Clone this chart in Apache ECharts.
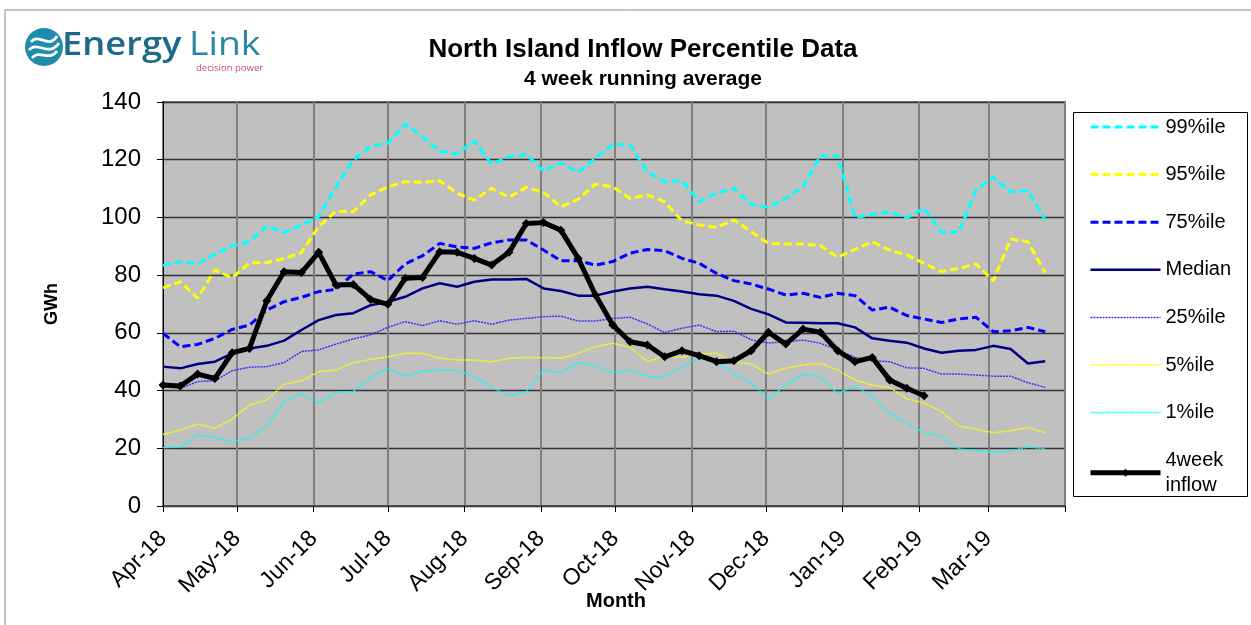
<!DOCTYPE html>
<html>
<head>
<meta charset="utf-8">
<script src="https://cdn.jsdelivr.net/npm/echarts@6/dist/echarts.min.js"></script>
<style>
html,body{margin:0;padding:0;background:#fff;}
#chart{width:1251px;height:625px;}
</style>
</head>
<body>
<div id="chart"></div>
<script>
const weeks = [
 '2018-04-01','2018-04-08','2018-04-15','2018-04-22','2018-04-29','2018-05-06','2018-05-13','2018-05-20','2018-05-27',
 '2018-06-03','2018-06-10','2018-06-17','2018-06-24','2018-07-01','2018-07-08','2018-07-15','2018-07-22','2018-07-29',
 '2018-08-05','2018-08-12','2018-08-19','2018-08-26','2018-09-02','2018-09-09','2018-09-16','2018-09-23','2018-09-30',
 '2018-10-07','2018-10-14','2018-10-21','2018-10-28','2018-11-04','2018-11-11','2018-11-18','2018-11-25','2018-12-02',
 '2018-12-09','2018-12-16','2018-12-23','2018-12-30','2019-01-06','2019-01-13','2019-01-20','2019-01-27','2019-02-03',
 '2019-02-10','2019-02-17','2019-02-24','2019-03-03','2019-03-10','2019-03-17','2019-03-24'
];
const monthNames = ['Jan','Feb','Mar','Apr','May','Jun','Jul','Aug','Sep','Oct','Nov','Dec'];

const p99 = [83.3,84.7,83.9,87.3,90.2,91.6,97.0,94.7,97.4,100.3,110.6,119.9,124.7,125.7,132.4,128.0,123.0,122.0,126.5,118.5,121.0,121.9,116.1,119.0,115.6,120.5,125.3,125.1,115.8,112.4,112.7,105.4,108.4,110.1,104.5,103.5,106.6,110.6,121.3,121.4,99.9,101.1,101.8,99.9,103.2,95.0,94.8,109.5,113.9,108.9,109.3,99.1];
const p95 = [75.6,77.7,72.0,81.8,79.1,84.3,84.3,85.8,87.8,96.8,102.2,102.0,107.8,110.6,112.4,112.2,112.7,108.4,106.0,110.1,107.0,110.4,108.7,103.7,106.3,111.5,110.6,106.6,107.8,105.4,98.8,97.4,96.6,99.1,95.0,91.0,90.8,90.8,90.2,86.2,88.9,91.6,88.7,87.0,84.1,81.2,82.3,83.9,78.0,92.5,91.6,80.8];
const p75 = [59.8,55.2,56.0,58.1,61.2,62.7,67.9,70.8,72.3,74.3,75.1,80.4,81.2,78.1,83.9,86.7,91.0,89.8,89.3,91.2,92.2,92.2,88.7,85.0,85.0,83.5,84.7,87.6,88.9,88.5,85.8,84.1,80.6,78.1,76.9,75.2,73.1,73.7,72.3,73.7,72.9,67.9,68.9,66.0,64.8,63.6,64.8,65.4,60.4,60.7,61.9,60.4];
const median = [48.3,47.7,49.2,50.0,52.9,54.6,55.5,57.3,61.0,64.4,66.2,66.8,69.6,70.8,72.5,75.4,77.2,76.0,77.7,78.5,78.5,78.7,75.4,74.5,72.9,72.9,74.3,75.4,76.0,75.1,74.3,73.4,72.9,71.1,68.3,66.4,63.6,63.5,63.3,63.3,61.9,58.1,57.3,56.6,54.6,53.1,53.8,54.1,55.5,54.4,49.4,50.2];
const p25 = [41.6,40.8,43.1,43.4,46.9,48.1,48.3,49.7,53.5,54.1,56.1,57.9,59.3,61.9,63.9,62.5,64.2,63.0,64.2,63.0,64.4,65.0,65.6,65.8,64.1,64.1,65.0,65.4,63.1,60.1,61.6,62.7,60.4,60.6,57.6,56.5,56.9,57.5,56.4,54.1,51.5,50.3,50.0,47.9,47.7,45.7,45.7,45.4,45.0,45.0,42.7,41.1];
const p5 = [24.8,26.3,28.4,26.9,30.1,35.0,36.7,42.2,43.3,46.5,47.1,49.7,50.8,51.7,52.9,52.9,51.2,50.6,50.6,50.0,51.2,51.5,51.4,51.2,52.9,55.2,56.4,55.0,50.0,52.0,51.5,52.7,52.9,50.0,49.2,45.7,47.7,48.9,49.4,47.1,43.7,41.9,41.1,37.1,35.8,32.7,27.8,26.6,25.4,26.1,27.1,25.5];
const p1 = [20.2,20.5,24.6,23.8,22.1,23.5,27.7,36.4,38.8,35.8,39.4,39.6,44.6,47.7,45.0,46.8,47.1,47.1,44.8,41.1,38.2,39.6,47.1,46.2,49.7,48.6,46.2,47.1,44.8,44.6,48.3,51.2,50.0,46.0,42.5,37.2,41.9,45.7,44.6,39.0,41.6,37.9,32.1,28.7,25.5,24.0,19.8,19.2,18.5,19.1,20.5,19.8];
const inflow = [41.9,41.6,45.7,44.2,53.1,54.6,71.1,81.2,80.9,87.9,76.6,76.8,71.6,69.9,78.9,79.2,88.1,87.9,85.8,83.5,87.9,97.9,98.2,95.6,85.8,73.1,62.7,56.9,55.8,51.7,53.8,52.1,50.0,50.3,53.8,60.2,56.1,61.3,60.2,53.8,50.0,51.5,43.7,40.8,38.2];

const FONT = '"Liberation Sans", Arial, sans-serif';
const pair = arr => arr.map((v, i) => [weeks[i], v]);

function pctSeries(name, arr, color, width, type) {
  return {
    name: name, type: 'line', data: pair(arr),
    symbol: 'none', showSymbol: false, smooth: false,
    lineStyle: {color: color, width: width, type: type},
    itemStyle: {color: color},
    emphasis: {disabled: true}
  };
}

const series = [
  pctSeries('99%ile', p99, '#00FFFF', 3, [8, 4]),
  pctSeries('95%ile', p95, '#FFFF00', 3, [8, 4]),
  pctSeries('75%ile', p75, '#0000FF', 3, [8, 4]),
  pctSeries('Median', median, '#000080', 2.5, 'solid'),
  pctSeries('25%ile', p25, '#3333FF', 1.5, [2, 1]),
  pctSeries('5%ile', p5, '#FFFF00', 1.5, [2, 1]),
  pctSeries('1%ile', p1, '#00FFFF', 1.5, [2, 1]),
  {
    name: '4week inflow', type: 'line', data: pair(inflow),
    symbol: 'diamond', symbolSize: 9, showSymbol: true,
    lineStyle: {color: '#000', width: 5},
    itemStyle: {color: '#000'},
    emphasis: {disabled: true}, z: 5
  }
];

const hidden = {color: 'rgba(0,0,0,0)', opacity: 0, borderWidth: 0};
const legendData = [
  {name: '99%ile', itemStyle: hidden, lineStyle: {width: 3}},
  {name: '95%ile', itemStyle: hidden, lineStyle: {width: 3}},
  {name: '75%ile', itemStyle: hidden, lineStyle: {width: 3}},
  {name: 'Median', itemStyle: hidden, lineStyle: {width: 2.5}},
  {name: '25%ile', itemStyle: hidden, lineStyle: {width: 1.5}},
  {name: '5%ile', itemStyle: hidden, lineStyle: {width: 1.5}},
  {name: '1%ile', itemStyle: hidden, lineStyle: {width: 1.5}},
  {name: '4week inflow', lineStyle: {width: 5}, textStyle: {lineHeight: 25, height: 25}}
];

const wave = (x1, y1, c1x, c1y, c2x, c2y, x2, y2) => ({
  type: 'bezierCurve',
  shape: {x1: x1, y1: y1, cpx1: c1x, cpy1: c1y, cpx2: c2x, cpy2: c2y, x2: x2, y2: y2},
  style: {fill: 'none', stroke: '#fff', lineWidth: 2.8}
});

const chart = echarts.init(document.getElementById('chart'), null, {renderer: 'canvas'});
chart.setOption({
  animation: false,
  backgroundColor: '#fff',
  textStyle: {fontFamily: FONT},
  title: [
    {text: 'North Island Inflow Percentile Data', left: 643, top: 37, textAlign: 'center', padding: 0,
     textStyle: {fontSize: 26, fontWeight: 'bold', color: '#000', fontFamily: FONT}},
    {text: '4 week running average', left: 643, top: 69, textAlign: 'center', padding: 0,
     textStyle: {fontSize: 21, fontWeight: 'bold', color: '#000', fontFamily: FONT}}
  ],
  grid: {left: 163, right: 186, top: 102, bottom: 119, show: true, backgroundColor: '#C0C0C0',
         borderColor: '#808080', borderWidth: 2, containLabel: false},
  legend: {
    orient: 'vertical', left: 1088, top: 117, padding: 0,
    itemWidth: 70, itemHeight: 10, itemGap: 27.6, selectedMode: false,
    textStyle: {fontSize: 20, color: '#000', lineHeight: 20, fontFamily: FONT},
    formatter: n => n === '4week inflow' ? '4week\ninflow' : n,
    data: legendData
  },
  xAxis: {
    type: 'time',
    min: '2018-04-01', max: '2019-04-01',
    splitNumber: 12,
    minInterval: 28 * 86400000, maxInterval: 31 * 86400000,
    axisLine: {lineStyle: {color: '#404040', width: 1.5}},
    axisTick: {show: true, length: 6, lineStyle: {color: '#000', width: 1}},
    axisLabel: {
      rotate: 45, fontSize: 23, color: '#000', margin: 29, fontFamily: FONT, hideOverlap: false,
      formatter: function (val) {
        const d = new Date(val);
        if (d.getFullYear() === 2019 && d.getMonth() === 3) return '';
        return monthNames[d.getMonth()] + '-' + String(d.getFullYear()).slice(2);
      }
    },
    splitLine: {show: true, lineStyle: {color: '#808080', width: 2}}
  },
  yAxis: {
    type: 'value', min: 0, max: 140, interval: 20,
    name: 'GWh', nameLocation: 'middle', nameGap: 102, nameRotate: 90,
    nameTextStyle: {fontSize: 18, fontWeight: 'bold', color: '#000', fontFamily: FONT},
    axisLine: {show: true, lineStyle: {color: '#000', width: 1}},
    axisTick: {show: true, length: 6, lineStyle: {color: '#000'}},
    axisLabel: {fontSize: 24, color: '#000', margin: 22, fontFamily: FONT},
    splitLine: {show: true, lineStyle: {color: '#333', width: 1.3}}
  },
  graphic: [
    {type: 'rect', silent: true, z: -10, shape: {x: 5, y: 10, width: 1400, height: 800},
     style: {fill: 'none', stroke: '#8a8a8a', lineWidth: 1}},
    {type: 'rect', silent: true, z: 0, shape: {x: 1073.5, y: 112.5, width: 174, height: 384},
     style: {fill: '#fff', stroke: '#000', lineWidth: 1}},
    {type: 'text', x: 616, y: 601, z: 10, style: {text: 'Month', font: 'bold 20px "Liberation Sans", Arial, sans-serif', fill: '#000', align: 'center', verticalAlign: 'middle'}},
    {type: 'group', x: 44, y: 47, children: [
      {type: 'circle', shape: {cx: 0, cy: 0, r: 19}, style: {fill: '#1d8dab'}},
      wave(-13, -5, -6, -15, 5, 3, 13, -11),
      wave(-15, 3, -7, -7, 5, 11, 15, -4),
      wave(-12, 11, -5, 2, 5, 15, 13, 4)
    ]},
    {type: 'text', x: 62, y: 46, scaleX: 1.1, style: {text: 'Energy', font: '600 33px "Open Sans", sans-serif', fill: '#1a6a88', align: 'left', verticalAlign: 'middle'}},
    {type: 'text', x: 189, y: 46, scaleX: 1.13, style: {text: 'Link', font: '400 33px "Open Sans", sans-serif', fill: '#2a86a4', align: 'left', verticalAlign: 'middle'}},
    {type: 'text', x: 196, y: 68, style: {text: 'decision power', font: '400 9.5px "Open Sans", sans-serif', fill: '#c8506e', align: 'left', verticalAlign: 'middle'}}
  ],
  series: series
});
</script>
</body>
</html>
